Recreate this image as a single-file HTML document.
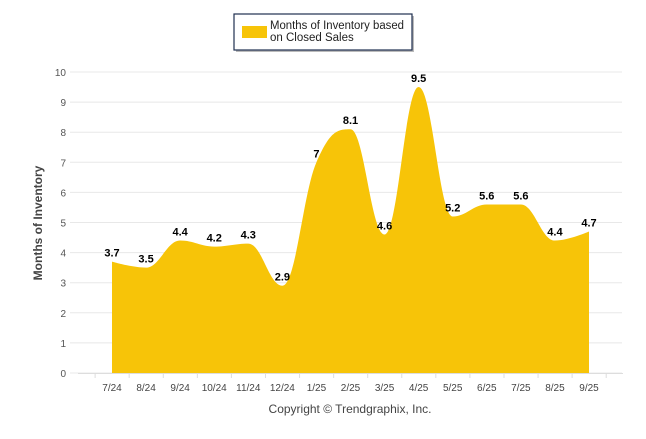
<!DOCTYPE html>
<html><head><meta charset="utf-8"><style>
body{margin:0;background:#fff;width:646px;height:434px;overflow:hidden;font-family:"Liberation Sans",Arial,sans-serif}
</style></head><body>
<svg id="s" width="646" height="434" xmlns="http://www.w3.org/2000/svg" font-family="Liberation Sans, Arial, sans-serif">
<rect x="236" y="16" width="178" height="36" fill="#777" opacity="0.5"/>
<rect x="234" y="14" width="178" height="36" fill="#fff" stroke="#1f2f4f" stroke-width="1.2"/>
<rect x="242" y="26" width="25" height="12" fill="#f7c408"/>
<text x="270" y="29" font-size="11.5" fill="#222" textLength="134" lengthAdjust="spacingAndGlyphs">Months of Inventory based</text>
<text x="270" y="41" font-size="11.5" fill="#222">on Closed Sales</text>
<g id="grid"></g>
<path id="area" fill="#f7c408"/>
<g id="lbl"></g>
<text transform="translate(42,223) rotate(-90)" text-anchor="middle" font-size="12" font-weight="bold" fill="#444">Months of Inventory</text>
<text x="350" y="413" text-anchor="middle" font-size="12" fill="#444">Copyright © Trendgraphix, Inc.</text>
</svg>
<script>
var d=[3.7,3.5,4.4,4.2,4.3,2.9,7,8.1,4.6,9.5,5.2,5.6,5.6,4.4,4.7];
var m=["7/24","8/24","9/24","10/24","11/24","12/24","1/25","2/25","3/25","4/25","5/25","6/25","7/25","8/25","9/25"];
var X=function(i){return 112+i*(589-112)/14},Y=function(v){return 373-v*30.1};
var g="";
for(var v=0;v<=10;v++){g+='<line x1="70" x2="622" y1="'+Y(v)+'" y2="'+Y(v)+'" stroke="#e8e8e8"/><text x="66" y="'+(Y(v)+4)+'" text-anchor="end" font-size="10" fill="#555">'+v+'</text>';}
g+='<line x1="78" x2="623" y1="373.5" y2="373.5" stroke="#ddd"/>';
for(var i=-1;i<15;i++){var x=X(i)+17.2;g+='<line x1="'+x+'" x2="'+x+'" y1="373" y2="378" stroke="#ddd"/>';}
for(i=0;i<15;i++)g+='<text x="'+X(i)+'" y="391" text-anchor="middle" font-size="10" fill="#444">'+m[i]+'</text>';
document.getElementById("grid").innerHTML=g;
var p="M"+X(0)+","+Y(0)+"L"+X(0)+","+Y(d[0]);
function pt(i){return [X(i),Y(d[i])]}
var sm=1.5;
function ctrl(i){
 var c=pt(i),a=pt(Math.max(i-1,0)),b=pt(Math.min(i+1,14));
 var lx=(sm*c[0]+a[0])/(sm+1),ly=(sm*c[1]+a[1])/(sm+1),rx=(sm*c[0]+b[0])/(sm+1),ry=(sm*c[1]+b[1])/(sm+1);
 var cor=0;if(rx!=lx)cor=((ry-ly)*(rx-c[0]))/(rx-lx)+c[1]-ry;
 ly+=cor;ry+=cor;
 if(ly>a[1]&&ly>c[1]){ly=Math.max(a[1],c[1]);ry=2*c[1]-ly}else if(ly<a[1]&&ly<c[1]){ly=Math.min(a[1],c[1]);ry=2*c[1]-ly}
 if(ry>b[1]&&ry>c[1]){ry=Math.max(b[1],c[1]);ly=2*c[1]-ry}else if(ry<b[1]&&ry<c[1]){ry=Math.min(b[1],c[1]);ly=2*c[1]-ry}
 if(i==0||i==14){return [[c[0],c[1]],[c[0],c[1]]]}
 return [[lx,ly],[rx,ry]];
}
for(i=1;i<15;i++){var c0=ctrl(i-1)[1],c1=ctrl(i)[0],q=pt(i);p+="C"+c0+" "+c1+" "+q;}
p+="L"+X(14)+","+Y(0)+"Z";
document.getElementById("area").setAttribute("d",p);
var l="";for(i=0;i<15;i++)l+='<text x="'+X(i)+'" y="'+(Y(d[i])-5)+'" text-anchor="middle" font-size="11" font-weight="bold" fill="#000">'+d[i]+'</text>';
document.getElementById("lbl").innerHTML=l;
</script>
</body></html>
